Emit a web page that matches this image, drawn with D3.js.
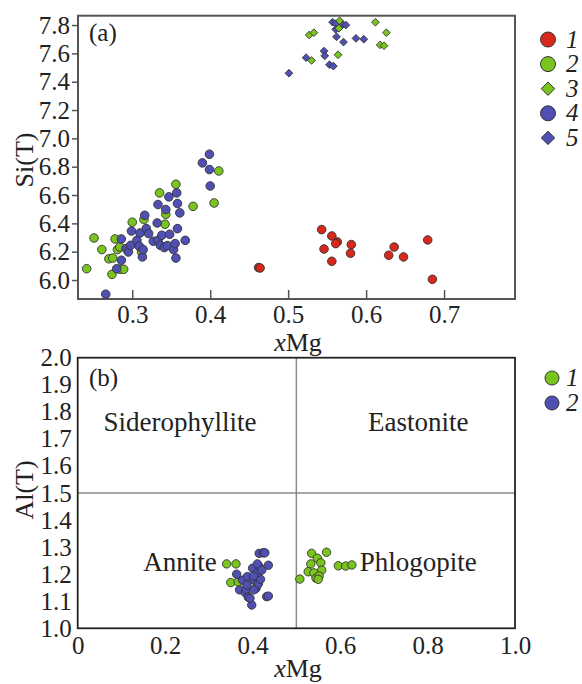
<!DOCTYPE html>
<html>
<head>
<meta charset="utf-8">
<script src="https://cdn.jsdelivr.net/npm/d3@7"></script>
<style>
  body { margin: 0; background: #fff; }
  svg text { font-family: "Liberation Serif", "DejaVu Serif", serif; fill: #222; }
</style>
</head>
<body>
<div id="chart"></div>
<script>
// Panel (a) data: [xMg, Si(T)]
const seriesA1 = [ // red circles
  [0.462, 6.088], [0.464, 6.085], [0.543, 6.356], [0.556, 6.311], [0.563, 6.269],
  [0.561, 6.257], [0.546, 6.219], [0.556, 6.132], [0.581, 6.25], [0.580, 6.189],
  [0.636, 6.233], [0.629, 6.175], [0.648, 6.163], [0.679, 6.283], [0.685, 6.005]
];
const seriesA2 = [ // green circles
  [0.2415, 6.08], [0.251, 6.297], [0.261, 6.215], [0.270, 6.15], [0.275, 6.155],
  [0.274, 6.04], [0.278, 6.29], [0.281, 6.215], [0.284, 6.233], [0.284, 6.076],
  [0.289, 6.076], [0.300, 6.408], [0.312, 6.198], [0.315, 6.427], [0.335, 6.615],
  [0.343, 6.464], [0.342, 6.394], [0.356, 6.676], [0.378, 6.52], [0.405, 6.544],
  [0.411, 6.77]
];
const seriesA3 = [ // green diamonds
  [0.612, 7.82], [0.626, 7.746], [0.618, 7.66], [0.623, 7.654], [0.527, 7.73],
  [0.533, 7.746], [0.530, 7.55], [0.564, 7.59], [0.566, 7.83], [0.565, 7.777]
];
const seriesA4 = [ // blue circles
  [0.266, 5.90], [0.286, 6.14], [0.280, 6.08], [0.286, 6.29], [0.292, 6.222],
  [0.295, 6.198], [0.298, 6.245], [0.299, 6.346], [0.306, 6.28], [0.309, 6.238],
  [0.313, 6.163], [0.314, 6.215], [0.310, 6.332], [0.316, 6.457], [0.318, 6.363],
  [0.321, 6.328], [0.327, 6.274], [0.333, 6.533], [0.332, 6.403], [0.333, 6.28],
  [0.336, 6.245], [0.338, 6.316], [0.341, 6.229], [0.343, 6.498], [0.345, 6.243],
  [0.347, 6.587], [0.348, 6.323], [0.353, 6.215], [0.355, 6.257], [0.356, 6.155],
  [0.357, 6.615], [0.358, 6.363], [0.358, 6.54], [0.361, 6.474], [0.368, 6.28],
  [0.390, 6.827], [0.399, 6.78], [0.400, 6.664], [0.399, 6.888]
];
const seriesA5 = [ // blue diamonds
  [0.501, 7.46], [0.523, 7.57], [0.546, 7.616], [0.547, 7.583], [0.553, 7.52],
  [0.558, 7.51], [0.557, 7.82], [0.561, 7.81], [0.570, 7.805], [0.574, 7.80],
  [0.561, 7.77], [0.562, 7.717], [0.571, 7.68], [0.587, 7.706], [0.597, 7.70]
];

// Panel (b) data: [xMg, Al(T)]
const seriesB1 = [ // green circles
  [0.3405, 1.238], [0.362, 1.238], [0.350, 1.169], [0.367, 1.171],
  [0.508, 1.182], [0.535, 1.277], [0.569, 1.281], [0.548, 1.259], [0.533, 1.238],
  [0.556, 1.242], [0.527, 1.209], [0.558, 1.215], [0.540, 1.205], [0.545, 1.185],
  [0.552, 1.193], [0.550, 1.181], [0.596, 1.231], [0.613, 1.230], [0.627, 1.234]
];
const seriesB2 = [ // blue circles
  [0.3635, 1.20], [0.377, 1.178], [0.370, 1.142], [0.383, 1.132], [0.385, 1.144],
  [0.390, 1.115], [0.398, 1.086], [0.394, 1.111], [0.388, 1.191], [0.400, 1.222],
  [0.403, 1.178], [0.408, 1.148], [0.413, 1.164], [0.418, 1.181], [0.411, 1.205],
  [0.415, 1.228], [0.411, 1.238], [0.421, 1.215], [0.415, 1.277], [0.424, 1.279],
  [0.428, 1.279], [0.436, 1.233], [0.432, 1.117], [0.436, 1.119], [0.402, 1.193],
  [0.387, 1.16], [0.403, 1.142]
];

const ticksAx = [0.3, 0.4, 0.5, 0.6, 0.7];
const ticksAy = [6.0, 6.2, 6.4, 6.6, 6.8, 7.0, 7.2, 7.4, 7.6, 7.8];
const ticksBx = [0, 0.2, 0.4, 0.6, 0.8, 1.0];
const ticksBy = [1.0, 1.1, 1.2, 1.3, 1.4, 1.5, 1.6, 1.7, 1.8, 1.9, 2.0];
const legendA = ["1", "2", "3", "4", "5"];
const legendB = ["1", "2"];
const fields = [
  { name: "Siderophyllite", x: 0.059, y: 1.73 },
  { name: "Eastonite", x: 0.664, y: 1.73 },
  { name: "Annite", x: 0.150, y: 1.21 },
  { name: "Phlogopite", x: 0.645, y: 1.213 }
];

const RED = "#d8281c", GREEN = "#7ac41e", BLUE = "#5050b4";

const svg = d3.select("#chart").append("svg")
  .attr("width", 582)
  .attr("height", 684);

const diamond = d3.symbol().type(d3.symbolDiamond2);

// ---------- Panel (a) ----------
const xA = d3.scaleLinear().domain([0.2304, 0.791]).range([78, 515]);
const yA = d3.scaleLinear().domain([5.866, 7.866]).range([299, 15.7]);

const gA = svg.append("g");

gA.append("g")
  .attr("transform", "translate(78,0)")
  .call(d3.axisLeft(yA).tickValues(ticksAy).tickFormat(d3.format(".1f")).tickSize(6).tickPadding(2))
  .call(g => g.select(".domain").remove())
  .call(g => g.selectAll("line").attr("stroke", "#555").attr("stroke-width", 1.5))
  .call(g => g.selectAll("text").attr("font-size", 25).attr("fill", "#222").attr("font-family", "Liberation Serif"));

gA.append("g")
  .attr("transform", "translate(0,299)")
  .call(d3.axisBottom(xA).tickValues(ticksAx).tickFormat(d3.format(".1f")).tickSize(-9).tickPadding(6))
  .call(g => g.select(".domain").remove())
  .call(g => g.selectAll("line").attr("stroke", "#555").attr("stroke-width", 1.5))
  .call(g => g.selectAll("text").attr("font-size", 25).attr("fill", "#222").attr("font-family", "Liberation Serif"));

gA.append("rect")
  .attr("x", 78).attr("y", 15.7).attr("width", 437).attr("height", 283.3)
  .attr("fill", "none").attr("stroke", "#555").attr("stroke-width", 2);

const drawCircles = (g, data, xs, ys, color, r) => {
  g.append("g").selectAll("circle")
    .data(data).enter().append("circle")
    .attr("cx", d => xs(d[0]))
    .attr("cy", d => ys(d[1]))
    .attr("r", r)
    .attr("fill", color)
    .attr("stroke", "#333")
    .attr("stroke-width", 0.9);
};
const drawDiamonds = (g, data, xs, ys, color, size) => {
  g.append("g").selectAll("path")
    .data(data).enter().append("path")
    .attr("d", diamond.size(size)())
    .attr("transform", d => `translate(${xs(d[0])},${ys(d[1])})`)
    .attr("fill", color)
    .attr("stroke", "#333")
    .attr("stroke-width", 0.9);
};

drawCircles(gA, seriesA1, xA, yA, RED, 4.3);
drawCircles(gA, seriesA2, xA, yA, GREEN, 4.3);
drawCircles(gA, seriesA4, xA, yA, BLUE, 4.3);
drawDiamonds(gA, seriesA5, xA, yA, BLUE, 38);
drawDiamonds(gA, seriesA3, xA, yA, GREEN, 38);

gA.append("text").attr("x", 89).attr("y", 41).attr("font-size", 25).text("(a)");

gA.append("text")
  .attr("transform", "translate(33,160) rotate(-90)")
  .attr("text-anchor", "middle").attr("font-size", 26).text("Si(T)");

const xLabel = (g, x, y) => {
  const t = g.append("text").attr("x", x).attr("y", y)
    .attr("text-anchor", "middle").attr("font-size", 26);
  t.append("tspan").attr("font-style", "italic").text("x");
  t.append("tspan").text("Mg");
};
xLabel(gA, 298, 351);

// legend (a)
const legAColors = [RED, GREEN, GREEN, BLUE, BLUE];
const legAShapes = ["c", "c", "d", "c", "d"];
const legA = gA.append("g").selectAll("g")
  .data(legendA).enter().append("g")
  .attr("transform", (d, i) => `translate(548,${39.5 + i * 24.6})`);
legA.each(function (d, i) {
  const g = d3.select(this);
  if (legAShapes[i] === "c") {
    g.append("circle").attr("r", 7.5).attr("fill", legAColors[i])
      .attr("stroke", "#333").attr("stroke-width", 1);
  } else {
    g.append("path").attr("d", diamond.size(115)()).attr("fill", legAColors[i])
      .attr("stroke", "#333").attr("stroke-width", 1);
  }
  g.append("text").attr("x", 18).attr("y", 8).attr("font-size", 25)
    .attr("font-style", "italic").text(d);
});

// ---------- Panel (b) ----------
const xB = d3.scaleLinear().domain([0, 1]).range([77.7, 515]);
const yB = d3.scaleLinear().domain([1, 2]).range([628.3, 357.7]);

const gB = svg.append("g");

gB.append("g")
  .attr("transform", "translate(77.7,0)")
  .call(d3.axisLeft(yB).tickValues(ticksBy).tickFormat(d3.format(".1f")).tickSize(0).tickPadding(6))
  .call(g => g.select(".domain").remove())
  .call(g => g.selectAll("text").attr("font-size", 25).attr("fill", "#222").attr("font-family", "Liberation Serif"));

gB.append("g")
  .attr("transform", "translate(0,628.3)")
  .call(d3.axisBottom(xB).tickValues(ticksBx).tickFormat(d => d === 0 ? "0" : d3.format(".1f")(d)).tickSize(0).tickPadding(8))
  .call(g => g.select(".domain").remove())
  .call(g => g.selectAll("text").attr("font-size", 25).attr("fill", "#222").attr("font-family", "Liberation Serif"));

// field boundaries
gB.append("line")
  .attr("x1", xB(0.5)).attr("x2", xB(0.5)).attr("y1", yB(1)).attr("y2", yB(2))
  .attr("stroke", "#8a8a8a").attr("stroke-width", 1.5);
gB.append("line")
  .attr("x1", xB(0)).attr("x2", xB(1)).attr("y1", yB(1.5)).attr("y2", yB(1.5))
  .attr("stroke", "#8a8a8a").attr("stroke-width", 1.5);

gB.append("rect")
  .attr("x", 77.7).attr("y", 357.7).attr("width", 437.3).attr("height", 270.6)
  .attr("fill", "none").attr("stroke", "#222").attr("stroke-width", 1.8);

drawCircles(gB, seriesB1, xB, yB, GREEN, 4.2);
drawCircles(gB, seriesB2, xB, yB, BLUE, 4.2);

gB.append("text").attr("x", 89).attr("y", 386).attr("font-size", 25).text("(b)");

gB.append("g").selectAll("text")
  .data(fields).enter().append("text")
  .attr("x", d => xB(d.x)).attr("y", d => yB(d.y))
  .attr("font-size", 27)
  .text(d => d.name);

gB.append("text")
  .attr("transform", "translate(33,490) rotate(-90)")
  .attr("text-anchor", "middle").attr("font-size", 26).text("Al(T)");

xLabel(gB, 298, 677);

// legend (b)
const legBColors = [GREEN, BLUE];
const legB = gB.append("g").selectAll("g")
  .data(legendB).enter().append("g")
  .attr("transform", (d, i) => `translate(552,${378 + i * 25})`);
legB.append("circle").attr("r", 7).attr("fill", (d, i) => legBColors[i])
  .attr("stroke", "#333").attr("stroke-width", 1);
legB.append("text").attr("x", 14).attr("y", 8).attr("font-size", 25)
  .attr("font-style", "italic").text(d => d);
</script>
</body>
</html>
